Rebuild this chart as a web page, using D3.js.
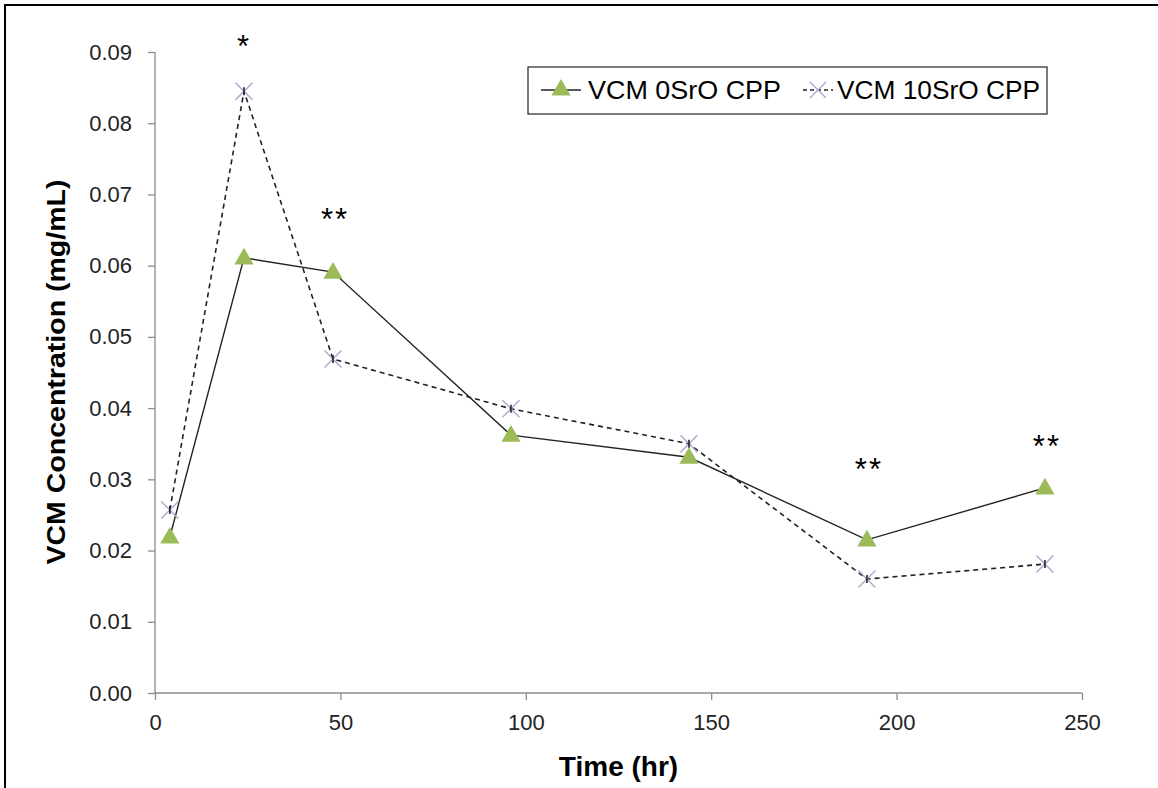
<!DOCTYPE html>
<html>
<head>
<meta charset="utf-8">
<script src="https://cdn.jsdelivr.net/npm/d3@7"></script>
<style>
  html, body { margin: 0; padding: 0; background: #fff; }
  svg { display: block; font-family: "Liberation Sans", Arial, sans-serif; }
</style>
</head>
<body>
<svg id="chart" width="1158" height="788"></svg>
<script>
// Release time points (hr)
const times = [4, 24, 48, 96, 144, 192, 240];
// VCM concentration (mg/mL) for each formulation
const vcm0SrO = [0.0219, 0.0611, 0.0591, 0.0362, 0.0331, 0.0215, 0.0288];
const vcm10SrO = [0.0257, 0.0845, 0.0469, 0.0399, 0.0350, 0.0160, 0.0181];
const seriesNames = ["VCM 0SrO CPP", "VCM 10SrO CPP"];
// Significance marks placed above selected time points
const sigTimes = [24, 48, 192, 240];
const sigLabels = ["*", "**", "**", "**"];
const sigLevels = [0.0893, 0.0650, 0.0299, 0.0331];
const xTicks = [0, 50, 100, 150, 200, 250];
const yTicks = [0, 0.01, 0.02, 0.03, 0.04, 0.05, 0.06, 0.07, 0.08, 0.09];

const svg = d3.select("#chart");
const W = 1158, H = 788;

// Outer frame (left and top edges visible)
svg.append("rect").attr("x", 5).attr("y", 5).attr("width", W + 10).attr("height", H + 10)
  .attr("fill", "#fff").attr("stroke", "#000").attr("stroke-width", 2);

const x = d3.scaleLinear().domain([0, 250]).range([155, 1082]);
const y = d3.scaleLinear().domain([0, 0.09]).range([693, 52]);

const axisColor = "#8c8c8c";
const tickFont = 22;

// Y axis
const yAxis = svg.append("g").attr("transform", `translate(${x(0)},0)`)
  .call(d3.axisLeft(y).tickValues(yTicks).tickFormat(d3.format(".2f")).tickSize(7).tickPadding(16));
// X axis
const xAxis = svg.append("g").attr("transform", `translate(0,${y(0)})`)
  .call(d3.axisBottom(x).tickValues(xTicks).tickFormat(d3.format("d")).tickSize(7).tickPadding(14));

[yAxis, xAxis].forEach(g => {
  g.selectAll(".domain").attr("stroke", axisColor).attr("stroke-width", 1.3);
  g.selectAll(".tick line").attr("stroke", axisColor).attr("stroke-width", 1.3);
  g.selectAll(".tick text").attr("fill", "#222").style("font-size", tickFont + "px")
    .style("font-family", '"Liberation Sans", Arial, sans-serif');
});
// Plain axis lines without end caps
yAxis.select(".domain").attr("d", `M0,${y(0.09)}V${y(0)}`);
xAxis.select(".domain").attr("d", `M${x(0)},0H${x(250)}`);

// Axis titles
svg.append("text").attr("x", x(125)).attr("y", 776).attr("text-anchor", "middle")
  .style("font-size", "28px").style("font-weight", "bold").attr("fill", "#000").text("Time (hr)");
svg.append("text").attr("transform", `translate(65,372) rotate(-90)`).attr("text-anchor", "middle")
  .style("font-size", "26px").style("font-weight", "bold").attr("fill", "#000")
  .attr("textLength", 385).attr("lengthAdjust", "spacingAndGlyphs")
  .text("VCM Concentration (mg/mL)");

const line = d3.line().x(d => x(d[0])).y(d => y(d[1]));
const pts0 = times.map((t, i) => [t, vcm0SrO[i]]);
const pts1 = times.map((t, i) => [t, vcm10SrO[i]]);

// Lines
svg.append("path").attr("d", line(pts0)).attr("fill", "none").attr("stroke", "#222").attr("stroke-width", 1.4);
svg.append("path").attr("d", line(pts1)).attr("fill", "none").attr("stroke", "#222").attr("stroke-width", 1.6)
  .attr("stroke-dasharray", "5,4");

const green = "#9bbb59", purple = "#b4a3d1";
const triPath = d3.symbol().type(d3.symbolTriangle).size(160);

function drawTriangle(g, cx, cy) {
  g.append("path").attr("d", triPath()).attr("transform", `translate(${cx},${cy + 1})`).attr("fill", green);
}
function drawCross(g, cx, cy) {
  const r = 8.5;
  g.append("path").attr("d", `M${cx - r},${cy - r}L${cx + r},${cy + r}M${cx - r},${cy + r}L${cx + r},${cy - r}`)
    .attr("stroke", purple).attr("stroke-width", 1.4).attr("fill", "none");
  g.append("path").attr("d", `M${cx},${cy - 4}V${cy + 4}`).attr("stroke", "#222").attr("stroke-width", 1.6);
}

const marks = svg.append("g");
pts0.forEach(p => drawTriangle(marks, x(p[0]), y(p[1])));
pts1.forEach(p => drawCross(marks, x(p[0]), y(p[1])));

// Significance asterisks
sigTimes.forEach((t, i) => {
  svg.append("text").attr("x", x(t) + (sigLabels[i].length > 1 ? 2 : 0)).attr("y", y(sigLevels[i]))
    .attr("text-anchor", "middle").style("font-size", "31px").style("letter-spacing", "2px")
    .attr("fill", "#000").text(sigLabels[i]);
});

// Legend
const lg = svg.append("g");
lg.append("rect").attr("x", 528).attr("y", 67).attr("width", 519).attr("height", 47)
  .attr("fill", "#fff").attr("stroke", "#222").attr("stroke-width", 1.2);
lg.append("line").attr("x1", 541).attr("x2", 581).attr("y1", 90).attr("y2", 90).attr("stroke", "#222").attr("stroke-width", 1.4);
drawTriangle(lg, 561, 89);
lg.append("text").attr("x", 588).attr("y", 99).style("font-size", "26px").attr("fill", "#000")
  .attr("textLength", 193).attr("lengthAdjust", "spacingAndGlyphs").text(seriesNames[0]);
lg.append("line").attr("x1", 803).attr("x2", 833).attr("y1", 90).attr("y2", 90).attr("stroke", "#222").attr("stroke-width", 1.4)
  .attr("stroke-dasharray", "4,3");
(function () {
  const cx = 818, cy = 90, r = 8;
  lg.append("path").attr("d", `M${cx - r},${cy - r}L${cx + r},${cy + r}M${cx - r},${cy + r}L${cx + r},${cy - r}`)
    .attr("stroke", purple).attr("stroke-width", 1.4).attr("fill", "none");
})();
lg.append("text").attr("x", 837).attr("y", 99).style("font-size", "26px").attr("fill", "#000")
  .attr("textLength", 203).attr("lengthAdjust", "spacingAndGlyphs").text(seriesNames[1]);
</script>
</body>
</html>
